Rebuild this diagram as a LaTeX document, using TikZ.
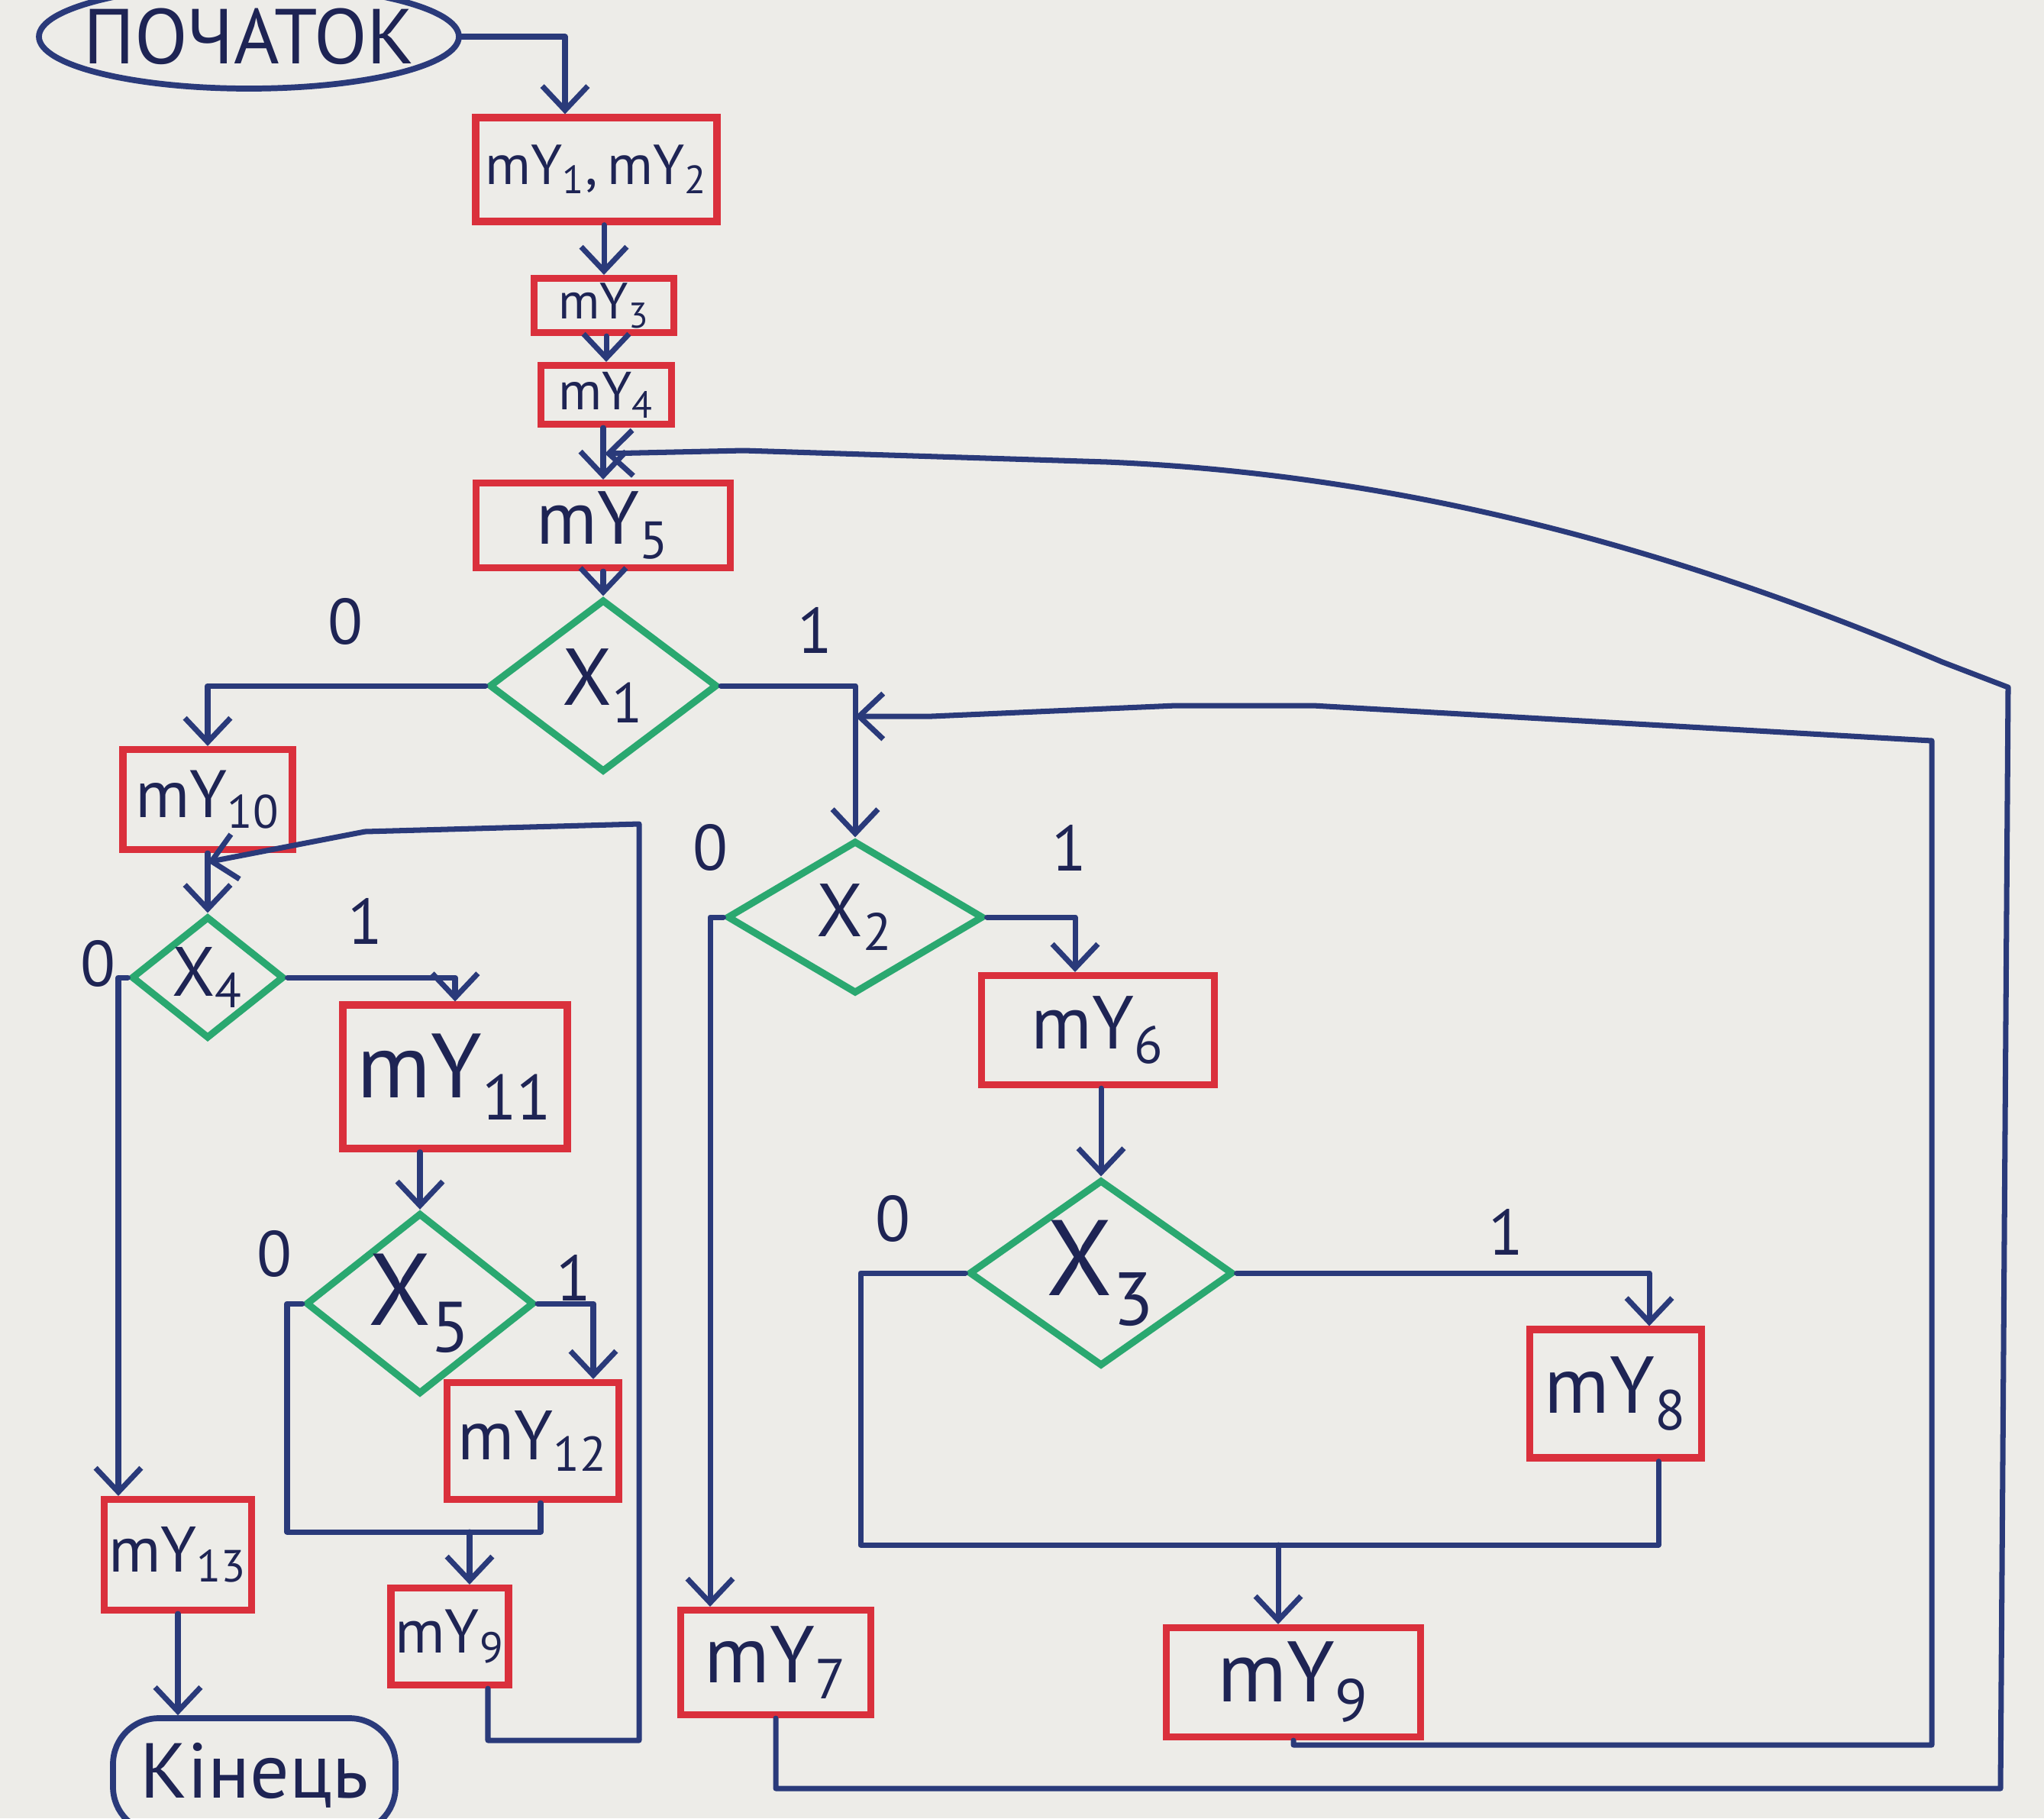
\documentclass[tikz,border=0pt]{standalone}
\usepackage{fontspec}
\setmainfont{PT Sans}
\usepackage{xcolor}
\usetikzlibrary{arrows.meta,calc,shapes.geometric}

\definecolor{boxred}{RGB}{218,48,60}
\definecolor{condgreen}{RGB}{42,168,112}
\definecolor{ink}{RGB}{42,58,122}
\definecolor{textink}{RGB}{30,36,84}
\definecolor{board}{RGB}{237,236,232}

\newcommand{\fsz}[1]{\fontsize{#1}{#1}\selectfont}
\newcommand{\mY}[1]{mY\textsubscript{#1}}
\newcommand{\cX}[1]{X\textsubscript{#1}}

\begin{document}
\begin{tikzpicture}[>={Straight Barb[length=9pt,width=17pt]},
  flow/.style={draw=ink, line width=2pt, line join=round, line cap=round},
  opbox/.style 2 args={draw=boxred, line width=2.6pt, inner sep=0pt, text=textink,
    minimum width=#1cm, minimum height=#2cm},
  cond/.style n args={3}{diamond, draw=condgreen, line width=2.6pt, inner sep=0pt,
    text=textink, minimum width=#1cm, minimum height=#2cm, aspect=#3},
  term/.style={draw=ink, line width=2.2pt, text=textink, font=\fsz{29}},
  lbl/.style={text=textink, font=\fsz{24}}]

  % ----------------------
  % Board
  % ----------------------
  \fill[board] (0,0) rectangle (26.77,-23.81);
  \useasboundingbox (0,0) rectangle (26.77,-23.81);

  % ----------------------
  % Start / end
  % ----------------------
  \node[term, ellipse, inner xsep=-1cm, inner ysep=0pt, minimum width=5.5cm, minimum height=1.36cm] (start) at (3.26,-0.48) {ПОЧАТОК};
  \node[term, rounded corners=0.6cm, inner sep=0pt, minimum width=3.7cm, minimum height=1.5cm] (end) at (3.33,-23.25) {Кінець};

  % ----------------------
  % Main column
  % ----------------------
  \node[opbox={3.16}{1.36}, font=\fsz{21}] (b1) at (7.81,-2.22) {\mY{1},\,\mY{2}};
  \node[opbox={1.83}{0.71}, font=\fsz{19}] (b3) at (7.91,-4.00) {\mY{3}};
  \node[opbox={1.71}{0.77}, font=\fsz{20}] (b4) at (7.94,-5.17) {\mY{4}};
  \node[opbox={3.33}{1.11}, font=\fsz{28}] (b5) at (7.90,-6.88) {\mY{5}};
  \node[cond={2.99}{2.26}{1.32}, font=\fsz{30}] (x1) at (7.90,-8.98) {\cX{1}};

  % ----------------------
  % Left branch (X1 = 0)
  % ----------------------
  \node[opbox={2.22}{1.31}, font=\fsz{25}] (b10) at (2.72,-10.47) {\mY{10}};
  \node[cond={2.0}{1.6}{1.25}, font=\fsz{26}] (x4) at (2.72,-12.80) {\cX{4}};
  \node[opbox={2.94}{1.88}, font=\fsz{34}] (b11) at (5.96,-14.10) {\mY{11}};
  \node[cond={2.93}{2.32}{1.26}, font=\fsz{38}] (x5) at (5.50,-17.07) {\cX{5}};
  \node[opbox={2.25}{1.53}, font=\fsz{26}] (b12) at (6.98,-18.87) {\mY{12}};
  \node[opbox={1.54}{1.27}, font=\fsz{23}] (b9l) at (5.89,-21.43) {\mY{9}};
  \node[opbox={1.93}{1.45}, font=\fsz{24}] (b13) at (2.33,-20.36) {\mY{13}};

  % ----------------------
  % Right branch (X1 = 1)
  % ----------------------
  \node[cond={3.36}{2.0}{1.68}, font=\fsz{28}] (x2) at (11.20,-12.01) {\cX{2}};
  \node[opbox={3.05}{1.43}, font=\fsz{28}] (b6) at (14.38,-13.49) {\mY{6}};
  \node[cond={3.46}{2.44}{1.42}, font=\fsz{40}] (x3) at (14.42,-16.67) {\cX{3}};
  \node[opbox={2.25}{1.68}, font=\fsz{30}] (b8) at (21.16,-18.25) {\mY{8}};
  \node[opbox={2.49}{1.37}, font=\fsz{30}] (b7) at (10.16,-21.77) {\mY{7}};
  \node[opbox={3.33}{1.43}, font=\fsz{32}] (b9r) at (16.94,-22.03) {\mY{9}};

  % ----------------------
  % Branch labels
  % ----------------------
  \node[lbl] (x1f) at (4.52,-8.14) {0};
  \node[lbl] (x1t) at (10.67,-8.25) {1};
  \node[lbl] (x2f) at (9.30,-11.10) {0};
  \node[lbl] (x2t) at (14.00,-11.10) {1};
  \node[lbl] (x3f) at (11.69,-15.96) {0};
  \node[lbl] (x3t) at (19.72,-16.13) {1};
  \node[lbl] (x4f) at (1.28,-12.62) {0};
  \node[lbl] (x4t) at (4.78,-12.06) {1};
  \node[lbl] (x5f) at (3.59,-16.42) {0};
  \node[lbl] (x5t) at (7.51,-16.73) {1};

  % ----------------------
  % Main column connectors
  % ----------------------
  \draw[flow,->] (start.east) -| ([xshift=-0.41cm]b1.north);
  \draw[flow,->] (b1.south -| b3.north) -- (b3.north);
  \draw[flow,->] (b3.south -| b4.north) -- (b4.north);
  \draw[flow,->] (b4.south -| b5.north) -- (b5.north);
  \draw[flow,->] (b5.south -| x1.north) -- (x1.north);
  \draw[flow,->] (x1.west) -| (b10.north);
  \draw[flow,->] (x1.east) -| (x2.north);

  % ----------------------
  % Left branch connectors
  % ----------------------
  \draw[flow,->] (b10.south) -- (x4.north);
  \draw[flow,->] (x4.west) -| ([xshift=-0.78cm]b13.north);
  \draw[flow,->] (x4.east) -| (b11.north);
  \draw[flow,->] (b11.south -| x5.north) -- (x5.north);
  \draw[flow,->] (x5.east) -| ([xshift=0.79cm]b12.north);
  \coordinate (j5l) at (3.76,-20.06);
  \coordinate (j5r) at (7.08,-20.06);
  \draw[flow] (x5.west) -| (j5l) -- (j5r) -- (j5r |- b12.south);
  \draw[flow,->] ([xshift=0.26cm]b9l.north |- j5l) -- ([xshift=0.26cm]b9l.north);
  \draw[flow,->] (b13.south) -- (b13.south |- end.north);

  % loop back from mY9 (left) to X4
  \coordinate (p1) at (8.37,-22.79);
  \coordinate (p2) at (8.37,-10.79);
  \coordinate (p3) at (4.78,-10.89);
  \coordinate (m104) at ($(b10.south)!0.15!(x4.north)$);
  \draw[flow,->] ([xshift=0.5cm]b9l.south) |- (p1) -- (p2) -- (p3) -- (m104);

  % ----------------------
  % Right branch connectors
  % ----------------------
  \draw[flow,->] (x2.west) -| ([xshift=-0.86cm]b7.north);
  \draw[flow,->] (x2.east) -| ([xshift=-0.3cm]b6.north);
  \draw[flow,->] (b6.south -| x3.north) -- (x3.north);
  \draw[flow,->] (x3.east) -| ([xshift=0.44cm]b8.north);
  \coordinate (j3l) at (11.27,-20.23);
  \coordinate (j3r) at (21.72,-20.23);
  \draw[flow] (x3.west) -| (j3l) -- (j3r) -- (j3r |- b8.south);
  \draw[flow,->] ([xshift=-0.2cm]b9r.north |- j3l) -- ([xshift=-0.2cm]b9r.north);

  % loop back from mY9 (right) to X2
  \coordinate (r1) at (25.30,-22.85);
  \coordinate (r2) at (25.30,-9.70);
  \coordinate (r3) at (17.20,-9.24);
  \coordinate (r4) at (15.40,-9.24);
  \coordinate (r5) at (12.20,-9.38);
  \draw[flow,->] (b9r.south) |- (r1) -- (r2) -- (r3) -- (r4) -- (r5) -- (r5 -| x2.north);

  % loop back from mY7 to mY5
  \coordinate (o1) at (26.20,-23.42);
  \coordinate (o2) at (26.30,-9.00);
  \coordinate (o3) at (25.44,-8.67);
  \coordinate (o4) at (14.50,-6.05);
  \coordinate (o5) at (9.74,-5.90);
  \coordinate (m45) at ($(b4.south)!0.5!(b5.north)$);
  \draw[flow,->] (b7.south) |- (o1) -- (o2) -- (o3)
    .. controls (21.5,-7.0) and (18.0,-6.2) .. (o4) -- (o5) -- (m45);

\end{tikzpicture}
\end{document}
